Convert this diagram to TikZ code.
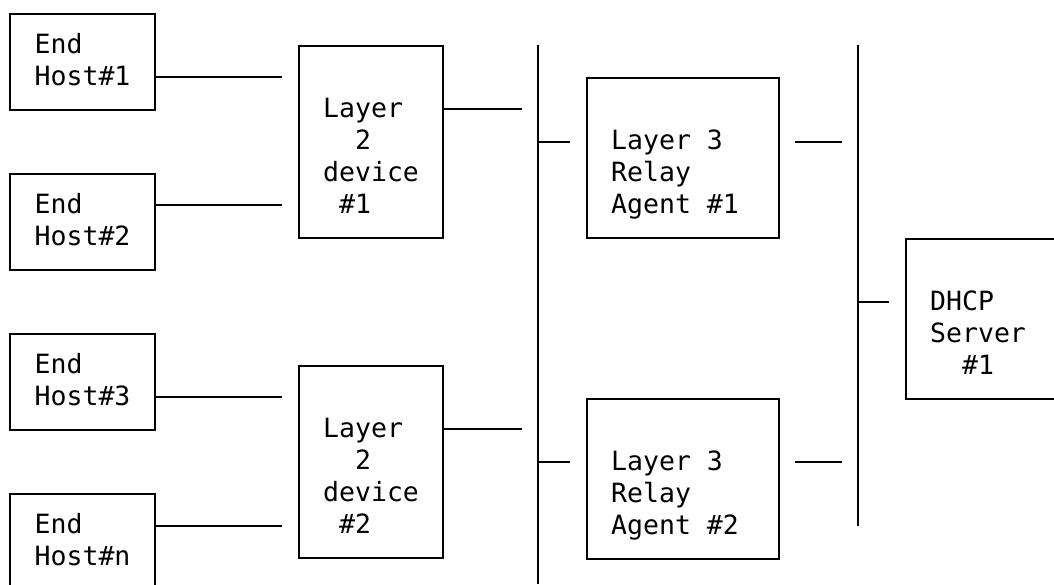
\documentclass[tikz,border=0pt]{standalone}
\usepackage{fontspec}
\setmonofont{DejaVu Sans Mono}
\usepackage{tikz}
\usetikzlibrary{positioning}

\begin{document}
\begin{tikzpicture}[
  x=1pt, y=-1pt,
  font=\ttfamily\fontsize{26.5}{32}\selectfont,
  box/.style={draw,line width=1.6pt,anchor=north west,inner sep=0pt},
  host/.style={box,minimum width=145pt,minimum height=96pt},
  switch/.style={box,minimum width=144pt,minimum height=192pt},
  relay/.style={box,minimum width=192pt,minimum height=160pt},
  boxtext/.style={anchor=north west,inner sep=0pt,align=left},
  link/.style={line width=1.6pt},
  gap/.style={shorten >=16pt}]

  \path[use as bounding box,clip] (0,0) rectangle (1054,584);

  % Boxes
  \node[host] (host1) at (9,13) {};
  \node[host] (host2) at (9,173) {};
  \node[host] (host3) at (9,333) {};
  \node[host,minimum height=130pt] (hostn) at (9,493) {};
  \node[switch] (l2a) at (298,45) {};
  \node[switch] (l2b) at (298,365) {};
  \node[relay] (l3a) at (586,77) {};
  \node[relay] (l3b) at (586,398) {};
  \node[relay,minimum width=200pt] (dhcp) at (905,238) {};

  % Texts inside the boxes
  \node[boxtext,below right=18pt and 25.5pt of host1.north west] (host1txt) {\strut End\\\strut Host\#1};
  \node[boxtext,below right=18pt and 25.5pt of host2.north west] (host2txt) {\strut End\\\strut Host\#2};
  \node[boxtext,below right=18pt and 25.5pt of host3.north west] (host3txt) {\strut End\\\strut Host\#3};
  \node[boxtext,below right=18pt and 25.5pt of hostn.north west] (hostntxt) {\strut End\\\strut Host\#n};
  \node[boxtext,below right=50pt and 25pt of l2a.north west] (l2atxt) {\strut Layer\\\strut\ \ 2\\\strut device\\\strut\ \#1};
  \node[boxtext,below right=50pt and 25pt of l2b.north west] (l2btxt) {\strut Layer\\\strut\ \ 2\\\strut device\\\strut\ \#2};
  \node[boxtext,below right=50pt and 25pt of l3a.north west] (l3atxt) {\strut Layer 3\\\strut Relay\\\strut Agent \#1};
  \node[boxtext,below right=50pt and 25pt of l3b.north west] (l3btxt) {\strut Layer 3\\\strut Relay\\\strut Agent \#2};
  \node[boxtext,below right=50pt and 25pt of dhcp.north west] (dhcptxt) {\strut DHCP\\\strut Server\\\strut\ \ \#1};

  % The two network segments
  \coordinate (bus1top) at (538,45);
  \coordinate (bus1end) at (538,584);
  \coordinate (bus2top) at (858,45);
  \coordinate (bus2end) at (858,526);
  \draw[link] (bus1top) -- (bus1end);
  \draw[link] (bus2top) -- (bus2end);

  % Hosts to layer 2 devices
  \draw[link,gap] ([yshift=-64pt]host1.north east) -- ([yshift=-64pt]host1.north east -| l2a.west);
  \draw[link,gap] ([yshift=-32pt]host2.north east) -- ([yshift=-32pt]host2.north east -| l2a.west);
  \draw[link,gap] ([yshift=-64pt]host3.north east) -- ([yshift=-64pt]host3.north east -| l2b.west);
  \draw[link,gap] ([yshift=-33pt]hostn.north east) -- ([yshift=-33pt]hostn.north east -| l2b.west);

  % Layer 2 devices to the first segment
  \draw[link,gap] ([yshift=-64pt]l2a.north east) -- ([yshift=-64pt]l2a.north east -| bus1top);
  \draw[link,gap] ([yshift=-64pt]l2b.north east) -- ([yshift=-64pt]l2b.north east -| bus1top);

  % Relay agents between the segments
  \draw[link,gap] ([yshift=-65pt]l3a.north west -| bus1top) -- ([yshift=-65pt]l3a.north west);
  \draw[link,gap] ([yshift=-64pt]l3b.north west -| bus1top) -- ([yshift=-64pt]l3b.north west);
  \draw[link,gap,shorten <=15pt] ([yshift=-65pt]l3a.north east) -- ([yshift=-65pt]l3a.north east -| bus2top);
  \draw[link,gap,shorten <=15pt] ([yshift=-64pt]l3b.north east) -- ([yshift=-64pt]l3b.north east -| bus2top);

  % Server on the second segment
  \draw[link,gap] ([yshift=-64pt]dhcp.north west -| bus2top) -- ([yshift=-64pt]dhcp.north west);
\end{tikzpicture}
\end{document}
